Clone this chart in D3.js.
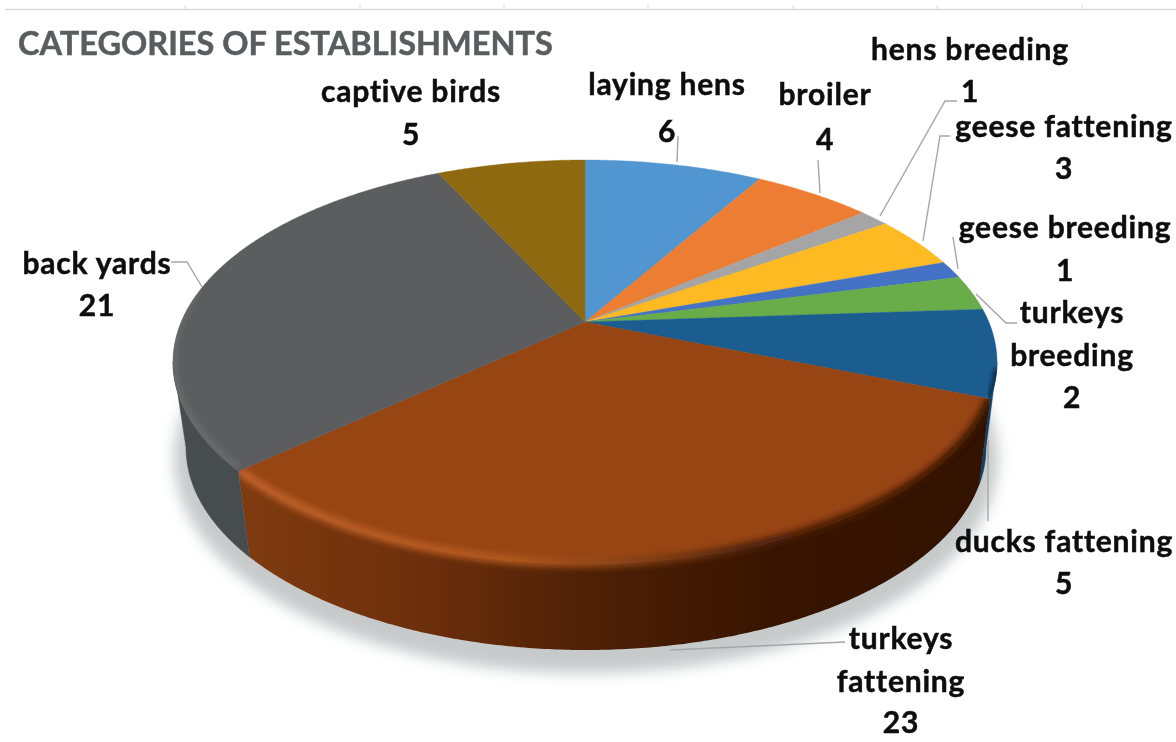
<!DOCTYPE html>
<html><head><meta charset="utf-8">
<script src="https://cdnjs.cloudflare.com/ajax/libs/d3/7.8.5/d3.min.js"></script>
<style>html,body{margin:0;padding:0;background:#fff}svg{display:block}</style>
</head><body>
<script>
// ---- data ----
const categories = ["laying hens","broiler","hens breeding","geese fattening","geese breeding","turkeys breeding","ducks fattening","turkeys fattening","back yards","captive birds"];
const values = [6,4,1,3,1,2,5,23,21,5];
const colors = ["#5196d0","#ec7d32","#a5a5a5","#fdba22","#4472c4","#69ac4a","#1c5d90","#984514","#5b5d5f","#8e6910"];
const sideColors = ["#3c6f9c","#b05d25","#7c7c7c","#be8b1a","#335693","#4f8138","#0f3f66","#7a3810","#474c4e","#6a4f0c"];
const titleText = "CATEGORIES OF ESTABLISHMENTS";
const axisTicks = [185,360,504,648,793,937,1082];

// ---- layout (label lines centred on x, baselines in y) ----
const labelLines = [
  {x:667,y:[95,142],t:["laying hens","6"]},
  {x:825,y:[105,150],t:["broiler","4"]},
  {x:970,y:[60,102],t:["hens breeding","1"]},
  {x:1064,y:[137,179],t:["geese fattening","3"]},
  {x:1065,y:[238,281],t:["geese breeding","1"]},
  {x:1072,y:[323,366,408],t:["turkeys","breeding","2"]},
  {x:1064,y:[552,594],t:["ducks fattening","5"]},
  {x:901,y:[649,692,733],t:["turkeys","fattening","23"]},
  {x:97,y:[274,316],t:["back yards","21"]},
  {x:411,y:[102,145],t:["captive birds","5"]}
];
const leaders = [
  [[678,136],[677,162]],
  [[818,160],[820,193]],
  [[957,101],[945,101],[880,216]],
  [[950,136],[940,136],[923,241]],
  [[953,237],[958,269]],
  [[1017,323],[1006,323],[976,294]],
  [[988,440],[988,521]],
  [[845,642],[670,650]],
  [[171,262],[187,262],[202,287]]
];

const W = 1176, H = 742;
const svg = d3.select("body").append("svg").attr("width",W).attr("height",H).attr("viewBox",`0 0 ${W} ${H}`);
const defs = svg.append("defs");

// ---- projection of the pie disk onto the tilted ellipse ----
const topX = d3.scaleLinear().domain([-1,1]).range([173,997]);
const topY = d3.scaleLinear().domain([-1,1]).range([160,564]);
const botX = d3.scaleLinear().domain([-1,1]).range([186,986]);
const botY = d3.scaleLinear().domain([-1,1]).range([245,650]);
const s = 0.198;
function disk(a,r=1){const u=Math.sin(a)*r,v=-Math.cos(a)*r,d=1-s*v;return [u*Math.sqrt(1-s*s)/d,(v-s)/d];}
const T = a=>{const p=disk(a);return [topX(p[0]),topY(p[1])];};
const B = a=>{const p=disk(a);return [botX(p[0]),botY(p[1])];};
const apex = [topX(disk(0,0)[0]),topY(disk(0,0)[1])];
const arcs = d3.pie().sort(null).value(d=>d)(values);
const samples = (a0,a1)=>{const n=Math.max(2,Math.ceil((a1-a0)*120));return d3.range(n+1).map(i=>a0+(a1-a0)*i/n);};
const line = d3.line();

// filters
const blur=(id,sd)=>defs.append("filter").attr("id",id).attr("x","-20%").attr("y","-20%").attr("width","140%").attr("height","140%").append("feGaussianBlur").attr("stdDeviation",sd);
blur("shadow",7); blur("rim",3); blur("soft",0.5); blur("edge",2);

// gradients
const grad=(id,stops,x1=170,x2=1000)=>{const g=defs.append("linearGradient").attr("id",id).attr("gradientUnits","userSpaceOnUse").attr("x1",x1).attr("x2",x2).attr("y1",0).attr("y2",0);
  stops.forEach(([o,c])=>g.append("stop").attr("offset",o).attr("stop-color",c));};
grad("sideBrown",[[0,"#7f3a10"],[0.22,"#6e300c"],[0.5,"#4a1e05"],[0.72,"#371400"],[1,"#321200"]],245,990);
grad("rimBrown",[[0,"#c0602a"],[0.35,"#b3581f"],[0.5,"#8a4414"],[0.68,"#4c2008"],[1,"#3a1500"]],245,990);

const root = svg.append("g");

// top axis remnant
root.append("line").attr("x1",5).attr("x2",W).attr("y1",9.5).attr("y2",9.5).attr("stroke","#d9d9d9").attr("stroke-width",1.5);
root.selectAll(".tk").data(axisTicks).join("line").attr("x1",d=>d).attr("x2",d=>d).attr("y1",5).attr("y2",9).attr("stroke","#d9d9d9");

// ground shadow
const all = samples(0,2*Math.PI);
root.append("path").attr("d",line(all.map(B))+"Z").attr("transform","translate(0,11)")
  .attr("fill","#c6caca").attr("stroke","#c6caca").attr("stroke-width",24).attr("filter","url(#shadow)");

// sides (front half only)
const frontStart = Math.PI - Math.acos(s), frontEnd = Math.PI + Math.acos(s);
const sideG = root.append("g");
let brownSide = "";
arcs.forEach((d,i)=>{
  const a0=Math.max(d.startAngle,frontStart), a1=Math.min(d.endAngle,frontEnd);
  if(a1<=a0) return;
  const as=samples(a0,a1);
  const dPath=line(as.map(T).concat(as.slice().reverse().map(B)))+"Z";
  if(i===7) brownSide=dPath;
  sideG.append("path").attr("d",dPath)
    .attr("fill",i===7?"url(#sideBrown)":sideColors[i])
    .attr("stroke",i===7?"none":sideColors[i]).attr("stroke-width",0.5);
});

// top face
const topG = root.append("g");
let brownTop="";
arcs.forEach((d,i)=>{
  const as=samples(d.startAngle,d.endAngle);
  const dPath=line([apex].concat(as.map(T)))+"Z";
  if(i===7) brownTop=dPath;
  topG.append("path").attr("d",dPath).attr("fill",colors[i]).attr("stroke",colors[i]).attr("stroke-width",0.4);
});

// bevel: soft rim light along the front edge, kept inside its own slice
const clipId="topClip";
defs.append("clipPath").attr("id",clipId).append("path").attr("d",line(all.map(T))+"Z");
const brownClip=defs.append("clipPath").attr("id","brownClip");
brownClip.append("path").attr("d",brownTop);
brownClip.append("path").attr("d",brownSide);
const rimG = root.append("g");
const shifted=(a,dy)=>{const p=T(a);return [p[0],p[1]+dy];};
const rimBrown=arcs[7];
rimG.append("g").attr("clip-path","url(#brownClip)").append("path")
  .attr("d",line(samples(rimBrown.startAngle,rimBrown.endAngle).map(a=>shifted(a,-1))))
  .attr("fill","none").attr("stroke","url(#rimBrown)").attr("stroke-width",9).attr("filter","url(#rim)");
const rimGrey=arcs[8];
const gc=rimG.append("g").attr("clip-path",`url(#${clipId})`);
const greyClip=defs.append("clipPath").attr("id","greyClip");
greyClip.append("path").attr("d",line([apex].concat(samples(rimGrey.startAngle,rimGrey.endAngle).map(T)))+"Z");
rimG.append("g").attr("clip-path","url(#greyClip)").append("path")
  .attr("d",line(samples(rimGrey.startAngle,frontEnd+0.35).map(a=>shifted(a,-3))))
  .attr("fill","none").attr("stroke","#6c6e70").attr("stroke-width",6).attr("filter","url(#rim)");
gc.append("path").attr("d",line(samples(arcs[6].startAngle+0.3,arcs[6].endAngle).map(T)))
  .attr("fill","none").attr("stroke","#0b2e4c").attr("stroke-width",7).attr("filter","url(#edge)");

// leaders
root.append("g").selectAll("path").data(leaders).join("path").attr("d",d=>line(d))
  .attr("fill","none").attr("stroke","#a6a6a6").attr("stroke-width",1.4);

// text
const textG = root.append("g").attr("filter","url(#soft)");
textG.append("text").attr("x",18).attr("y",55).text(titleText)
  .attr("font-family","Lato, 'Open Sans', sans-serif").attr("font-weight",700).attr("font-size",32.5)
  .attr("fill","#595d5f").attr("stroke","#595d5f").attr("stroke-width",0.5);
labelLines.forEach(l=>{
  l.t.forEach((t,j)=>{
    textG.append("text").attr("x",l.x).attr("y",l.y[j]).attr("text-anchor","middle").text(t)
      .attr("font-family","Lato, 'Open Sans', sans-serif").attr("font-weight",700).attr("font-size",30)
      .attr("letter-spacing",0.8).attr("fill","#0d0d0d").attr("stroke","#0d0d0d").attr("stroke-width",0.5);
  });
});
</script>
</body></html>
